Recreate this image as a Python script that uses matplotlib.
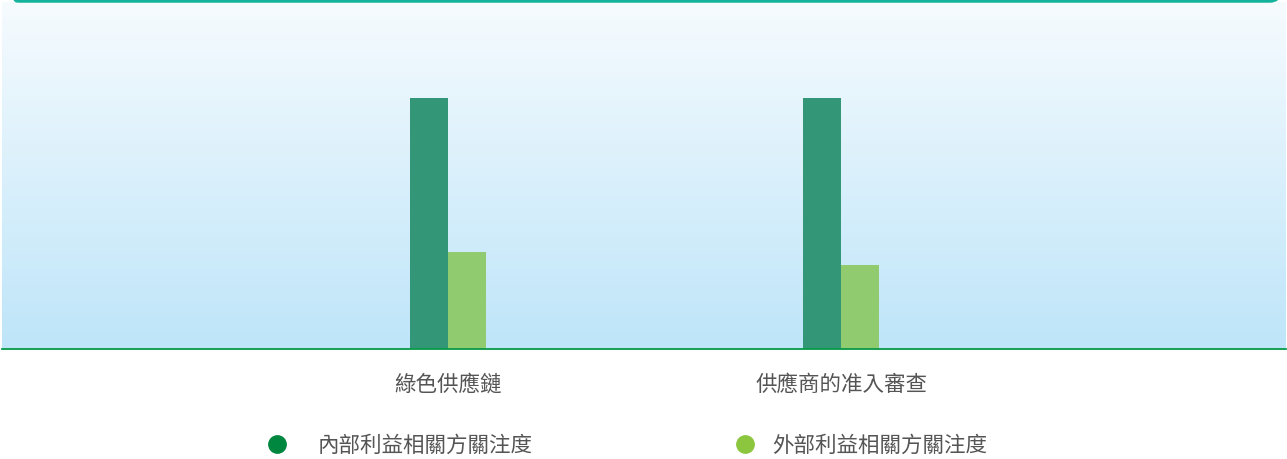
import numpy as np
import matplotlib
matplotlib.use("Agg")
from matplotlib import pyplot as plt
from matplotlib.patches import FancyBboxPatch
from matplotlib.lines import Line2D

plt.rcParams['font.family'] = ['Noto Sans CJK TC', 'DejaVu Sans']

categories = ['綠色供應鏈', '供應商的准入審查']
internal = [3.0, 3.0]
external = [1.16, 1.0]
series_names = ['內部利益相關方關注度', '外部利益相關方關注度']

W, H = 1287, 460
fig = plt.figure(figsize=(W / 100, H / 100), dpi=100)
ax = fig.add_axes([2 / W, (H - 350) / H, 1284 / W, 347 / H])

x = np.arange(len(categories))
bw = 0.0967
ax.set_xlim(-1.135, 2.132)
ymax = 3.0 * 347 / 251
ax.set_ylim(0, ymax)

# gradient background
grad = np.linspace(0, 1, 256).reshape(-1, 1)
top = np.array([0xf6, 0xfb, 0xfe]) / 255
bot = np.array([0xbe, 0xe5, 0xf9]) / 255
img = top + (bot - top) * grad[:, :, None]
ax.imshow(img, extent=[-1.135, 2.132, 0, ymax], aspect='auto', zorder=0)

ax.bar(x - bw / 2, internal, bw, color='#339677', zorder=2)
ax.bar(x + bw / 2, external, bw, color='#90cb6f', zorder=2)

for s in ['top', 'left', 'right']:
    ax.spines[s].set_visible(False)
ax.spines['bottom'].set_color('#079a48')
ax.spines['bottom'].set_linewidth(1.3)
ax.set_yticks([])
ax.set_xticks(x)
ax.set_xticklabels(categories, fontsize=15.5, color='#555555')
ax.tick_params(axis='x', length=0, pad=17)

# top border of frame (bottom edge of a rounded box above)
fig.add_artist(FancyBboxPatch((7 / W, (H - 2) / H), 1273 / W, 0.3,
                              boxstyle='round,pad=0,rounding_size=0.008',
                              mutation_aspect=W / H,
                              transform=fig.transFigure, facecolor='none',
                              edgecolor='#13b29a', linewidth=2.5, clip_on=False))

# legend
fig.add_artist(Line2D([277 / W], [1 - 445 / H], marker='o', markersize=12.5,
                      color='#00873f', linestyle='none', transform=fig.transFigure))
fig.text(318 / W, 1 - 446 / H, series_names[0], fontsize=15.5, color='#555555', va='center')
fig.add_artist(Line2D([745 / W], [1 - 445 / H], marker='o', markersize=12.5,
                      color='#8cc63f', linestyle='none', transform=fig.transFigure))
fig.text(772 / W, 1 - 446 / H, series_names[1], fontsize=15.5, color='#555555', va='center')

fig.savefig('out.png', dpi=100)
